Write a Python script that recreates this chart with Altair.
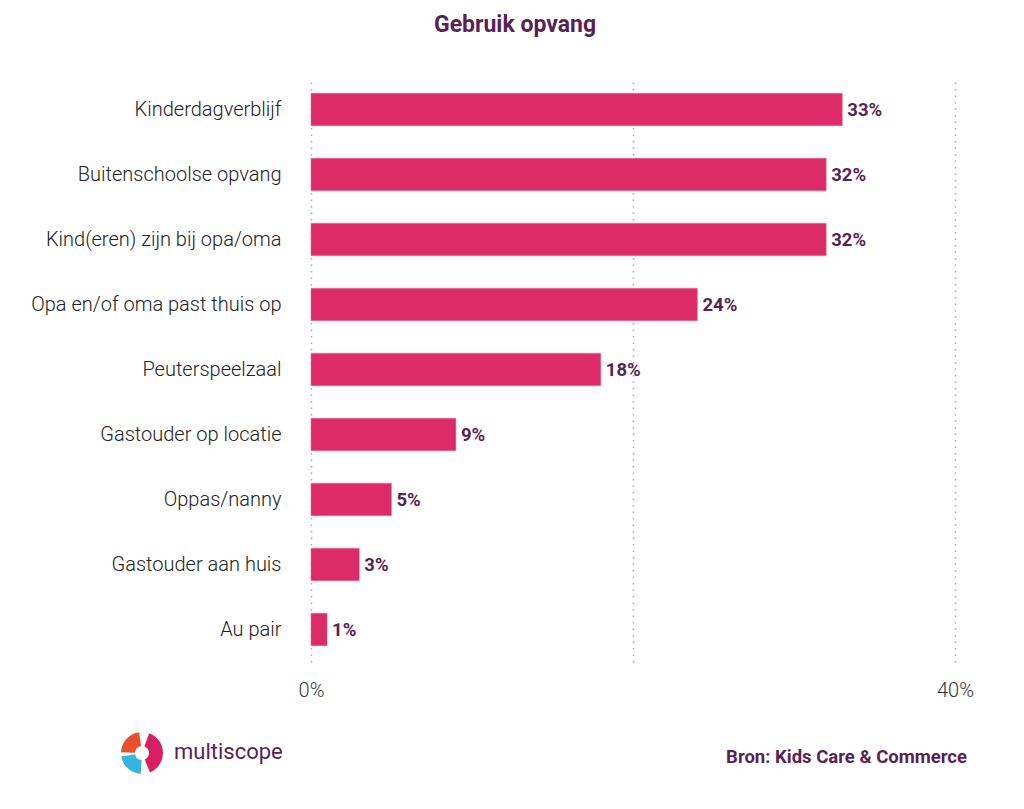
import altair as alt
import pandas as pd

categories = [
    "Kinderdagverblijf",
    "Buitenschoolse opvang",
    "Kind(eren) zijn bij opa/oma",
    "Opa en/of oma past thuis op",
    "Peuterspeelzaal",
    "Gastouder op locatie",
    "Oppas/nanny",
    "Gastouder aan huis",
    "Au pair",
]
values = [33, 32, 32, 24, 18, 9, 5, 3, 1]
x_ticks = [0, 20, 40]

title_text = "Gebruik opvang"
source_text = "Bron: Kids Care & Commerce"
logo_text = "multiscope"

df = pd.DataFrame({"cat": categories, "val": values})
df["label"] = df["val"].astype(str) + "%"

PURPLE = "#5a1f55"
BAR = "#dc2b66"
FONT = "Roboto"

base = alt.Chart(df)

bars = base.mark_bar(color=BAR, stroke="#e8709a", strokeWidth=0.5).encode(
    x=alt.X(
        "val:Q",
        scale=alt.Scale(domain=[0, 40], nice=False),
        axis=alt.Axis(
            values=x_ticks,
            labelExpr="datum.value == 20 ? '' : datum.value + '%'",
            title=None,
            domain=False,
            ticks=False,
            grid=True,
            gridColor="#a8a8a8",
            gridDash=[1.5, 5],
            gridWidth=1.5,
            labelFont=FONT,
            labelFontSize=20,
            labelFontWeight=300,
            labelColor="#333333",
            labelPadding=18,
            labelFlush=False,
            labelAlign="center",
        ),
    ),
    y=alt.Y(
        "cat:N",
        sort=categories,
        scale=alt.Scale(paddingInner=0.5, paddingOuter=0.25),
        axis=alt.Axis(
            title=None,
            domain=False,
            ticks=False,
            grid=False,
            labelFont=FONT,
            labelFontSize=20,
            labelFontWeight=300,
            labelColor="#222222",
            labelPadding=30,
            labelLimit=400,
        ),
    ),
)

labels = base.mark_text(
    align="left", baseline="middle", dx=5, font=FONT, fontSize=18.5,
    fontWeight="bold", color=PURPLE,
).encode(
    x=alt.X("val:Q"),
    y=alt.Y("cat:N", sort=categories),
    text="label:N",
)

one = pd.DataFrame({"t": [title_text], "s": [source_text], "m": [logo_text]})

title = alt.Chart(one).mark_text(
    align="center", baseline="middle", font=FONT, fontSize=23,
    fontWeight="bold", color=PURPLE,
).encode(x=alt.value(204), y=alt.value(-52), text="t:N")

source = alt.Chart(one).mark_text(
    align="right", baseline="middle", font=FONT, fontSize=18.5,
    fontWeight="bold", color=PURPLE,
).encode(x=alt.value(656), y=alt.value(680), text="s:N")

logo = alt.Chart(one).mark_text(
    align="left", baseline="middle", font=FONT, fontSize=22,
    fontWeight="normal", color=PURPLE,
).encode(x=alt.value(-137), y=alt.value(675), text="m:N")

arcs = []
for th1, th2, col in [(4.75, 6.15, "#e8502a"), (0.35, 2.75, "#d91f63"), (3.2, 4.55, "#35b5e0")]:
    arcs.append(
        alt.Chart(one).mark_arc(
            theta=th1, theta2=th2, radius=21, radius2=7, x=-169, y=676,
        ).encode(color=alt.value(col))
    )

chart = alt.layer(bars, labels, title, source, logo, *arcs).properties(
    width=644,
    height=585,
    padding={"left": 303, "top": 69, "right": 50, "bottom": 130},
    autosize=alt.AutoSizeParams(type="none"),
    background="white",
).configure_view(stroke=None)

chart.save("out.html", embed_options={"renderer": "svg", "actions": False})
